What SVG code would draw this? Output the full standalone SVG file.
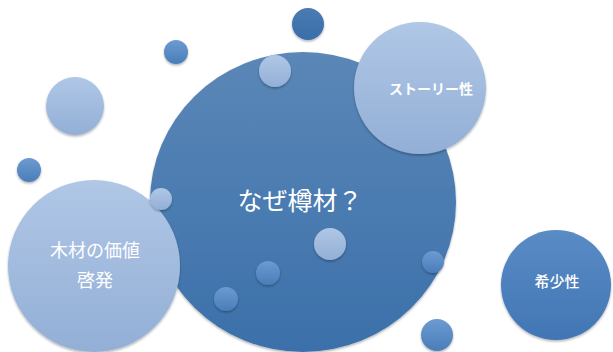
<svg xmlns="http://www.w3.org/2000/svg" width="613" height="352" viewBox="0 0 613 352">
<defs>
<linearGradient id="gBig" x1="0" y1="0" x2="0" y2="1">
<stop offset="0" stop-color="#5b87b7"/>
<stop offset="1" stop-color="#3b70aa"/>
</linearGradient>
<linearGradient id="gLight" x1="0" y1="0" x2="0" y2="1">
<stop offset="0" stop-color="#b0c7e6"/>
<stop offset="1" stop-color="#93afd6"/>
</linearGradient>
<linearGradient id="gMid" x1="0" y1="0" x2="0" y2="1">
<stop offset="0" stop-color="#6c9bd1"/>
<stop offset="1" stop-color="#4a7db9"/>
</linearGradient>
<linearGradient id="gDark" x1="0" y1="0" x2="0" y2="1">
<stop offset="0" stop-color="#4a7bb3"/>
<stop offset="1" stop-color="#3a6ea9"/>
</linearGradient>
<linearGradient id="gRare" x1="0" y1="0" x2="0" y2="1">
<stop offset="0" stop-color="#5a8bc5"/>
<stop offset="1" stop-color="#4176b4"/>
</linearGradient>
<filter id="sh" x="-20%" y="-20%" width="140%" height="140%">
<feDropShadow dx="0" dy="1.5" stdDeviation="1.2" flood-color="#000" flood-opacity="0.3"/>
</filter>
</defs>
<style>
circle{filter:url(#sh)}
.light{fill:url(#gLight)}
.mid{fill:url(#gMid)}
.t{fill:#ffffff;font-family:"Noto Sans CJK JP","Noto Sans",sans-serif;text-anchor:middle}
</style>
<rect width="613" height="352" fill="#ffffff"/>
<g id="bubbles">
<circle cx="308" cy="24" r="16" fill="url(#gDark)"/>
<circle cx="176" cy="52" r="12" class="mid"/>
<circle cx="75" cy="106" r="29" class="light"/>
<circle cx="29" cy="170" r="12" class="mid"/>
<circle cx="437" cy="335" r="16" class="mid"/>
</g>
<g id="node-main">
<ellipse cx="303" cy="202" rx="153" ry="150" fill="url(#gBig)" filter="url(#sh)"/>
<circle cx="275" cy="71" r="16" class="light"/>
<circle cx="330" cy="244" r="16" class="light"/>
<circle cx="268" cy="273" r="12" class="mid"/>
<circle cx="226" cy="299" r="12" class="mid"/>
<circle cx="433" cy="262" r="11" class="mid"/>
<text class="t" x="300" y="210" font-size="25">なぜ樽材？</text>
</g>
<g id="node-story">
<circle cx="420" cy="88" r="66" class="light"/>
<text class="t" x="431" y="94" font-size="14" font-weight="bold">ストーリー性</text>
</g>
<g id="node-wood">
<circle cx="94" cy="266" r="86" class="light"/>
<circle cx="161" cy="199" r="11" class="light"/>
<text class="t" x="95" y="257" font-size="18">木材の価値</text>
<text class="t" x="95" y="287" font-size="18">啓発</text>
</g>
<g id="node-rare">
<circle cx="556" cy="285" r="55" fill="url(#gRare)"/>
<text class="t" x="557" y="287" font-size="15" font-weight="500">希少性</text>
</g>
<g id="connectors"/>
</svg>
